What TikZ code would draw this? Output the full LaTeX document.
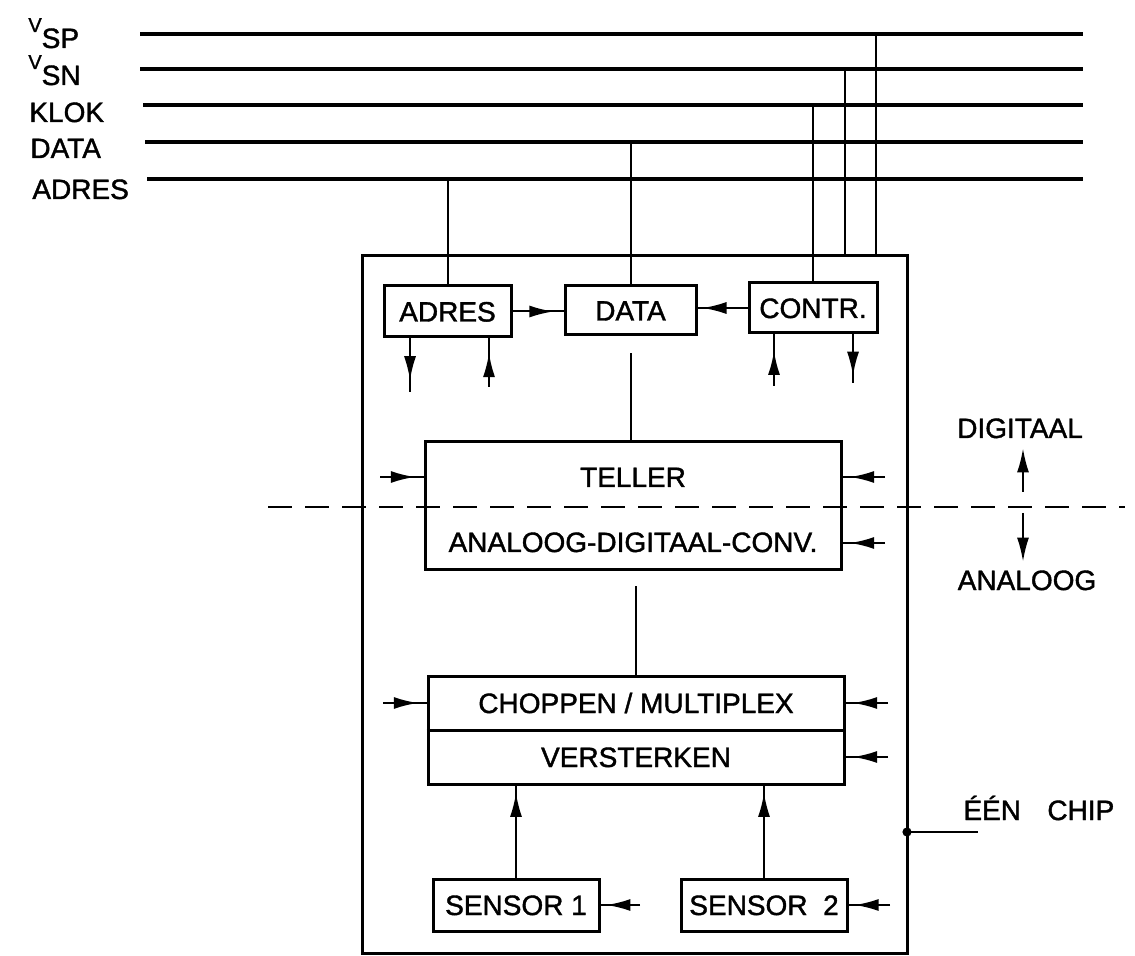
\documentclass[tikz,border=0pt]{standalone}
\usepackage{fontspec}
\setmainfont{Liberation Sans}[FakeBold=1.4]
\usetikzlibrary{arrows.meta,decorations.markings,calc}
\begin{document}
\begin{tikzpicture}[x=0.5pt,y=-0.5pt,
  bus/.style={line width=1.7pt},
  thinline/.style={line width=1pt},
  boxline/.style={line width=1.5pt},
  box/.style={draw,line width=1.5pt,inner sep=0pt,text height=10pt,text depth=0pt,font=\fontsize{14}{14}\selectfont},
  lbl/.style={inner sep=0pt,text height=10pt,text depth=0pt,font=\fontsize{14}{14}\selectfont},
  midarrow/.style={line width=1pt,postaction={decorate},decoration={markings,mark=at position #1 with {\arrow{Latex[length=12pt,width=6pt]}}}},
  endarrow/.style={line width=1pt,-{Latex[length=12pt,width=6pt]}},
]
\useasboundingbox (0,0) rectangle (1135,956);
\fill[white] (0,0) rectangle (1135,956);

% bus lines
\coordinate (bspL) at (140,34);  \coordinate (bspR) at (1083,34);
\coordinate (bsnL) at (140,69);  \coordinate (bsnR) at (1083,69);
\coordinate (bklL) at (143,105); \coordinate (bklR) at (1083,105);
\coordinate (bdaL) at (145,142); \coordinate (bdaR) at (1083,142);
\coordinate (badL) at (147,179); \coordinate (badR) at (1083,179);
\draw[bus] (bspL) -- (bspR);
\draw[bus] (bsnL) -- (bsnR);
\draw[bus] (bklL) -- (bklR);
\draw[bus] (bdaL) -- (bdaR);
\draw[bus] (badL) -- (badR);

% bus labels
\node[lbl,anchor=base west] (lsp) at (28,48) {\raisebox{8pt}{\fontsize{10}{10}\selectfont V}SP};
\node[lbl,anchor=base west] (lsn) at (28,85) {\raisebox{8pt}{\fontsize{10}{10}\selectfont V}SN};
\node[lbl,anchor=base west] (lkl) at (29,122) {KLOK};
\node[lbl,anchor=base west] (lda) at (30,158) {DATA};
\node[lbl,anchor=base west] (lad) at (32,199) {ADRES};

% chip outline
\node[draw,line width=1.5pt,inner sep=0pt,minimum width=272.5pt,minimum height=348.5pt] (chip) at (634.5,604.5) {};

% top boxes
\node[box,minimum width=63.5pt,minimum height=25.5pt] (adres) at (447.5,311.5) {ADRES};
\node[box,minimum width=65.5pt,minimum height=24.5pt] (data) at (630.5,310.5) {DATA};
\node[box,minimum width=64pt,minimum height=25pt] (contr) at (813,308) {CONTR.};

% bus taps
\draw[thinline] (adres.north) -- (adres.north |- badL);
\draw[thinline] (data.north) -- (data.north |- bdaL);
\draw[thinline] (contr.north) -- (contr.north |- bklL);
\coordinate (tsn) at (845,256);
\coordinate (tsp) at (876,256);
\draw[thinline] (tsn |- chip.north) -- (tsn |- bsnL);
\draw[thinline] (tsp |- chip.north) -- (tsp |- bspL);

% arrows between top boxes
\draw[midarrow=0.8] (adres.east) -- (adres.east -| data.west);
\draw[midarrow=0.9] (contr.west) -- (contr.west -| data.east);

% arrows below top boxes
\coordinate (ad) at (410,392);
\coordinate (au) at (489,387);
\coordinate (cu) at (774,386);
\coordinate (cd) at (853,383);
\draw[midarrow=0.78] (ad |- adres.south) -- (ad);
\draw[midarrow=0.7] (au) -- (au |- adres.south);
\draw[midarrow=0.68] (cu) -- (cu |- contr.south);
\draw[midarrow=0.85] (cd |- contr.south) -- (cd);

% teller / ADC
\node[draw,line width=1.5pt,inner sep=0pt,minimum width=208pt,minimum height=64pt] (teller) at (633,506) {};
\node[lbl] (tellertxt) at (633,477) {TELLER};
\node[lbl] (adctxt) at (633,542) {ANALOOG-DIGITAAL-CONV.};
\draw[thinline] ([yshift=-8.5pt]data.south) -- (data.south |- teller.north);

% dashed boundary
\coordinate (dl) at (268,507);
\coordinate (dr) at (1125,507);
\draw[line width=1.3pt,dash pattern=on 12pt off 6.5pt] (dl) -- (dr);

% side arrows teller
\coordinate (tl) at (380,477);
\coordinate (tr1) at (885,477);
\coordinate (tr2) at (885,543);
\draw[midarrow=0.8] (tl) -- (tl -| teller.west);
\draw[midarrow=0.82] (tr1) -- (tr1 -| teller.east);
\draw[midarrow=0.82] (tr2) -- (tr2 -| teller.east);

% chopper / amplifier
\node[draw,line width=1.5pt,inner sep=0pt,minimum width=208pt,minimum height=54pt] (chop) at (636,730) {};
\draw[boxline] (chop.west) -- (chop.east);
\node[lbl] (choptxt) at (636,703) {CHOPPEN / MULTIPLEX};
\node[lbl] (verstxt) at (636,757) {VERSTERKEN};
\draw[thinline] ([yshift=-7.5pt]teller.south -| chop.north) -- (chop.north);

\coordinate (cl) at (383,703);
\coordinate (cr1) at (888,703);
\coordinate (cr2) at (888,757);
\draw[midarrow=0.8] (cl) -- (cl -| chop.west);
\draw[midarrow=0.82] (cr1) -- (cr1 -| chop.east);
\draw[midarrow=0.82] (cr2) -- (cr2 -| chop.east);

% sensors
\node[box,minimum width=83pt,minimum height=26pt] (s1) at (516,905) {SENSOR 1};
\node[box,minimum width=83pt,minimum height=26pt] (s2) at (764,905) {SENSOR\ \ 2};
\draw[midarrow=0.92] (s1.north) -- (s1.north |- chop.south);
\draw[midarrow=0.92] (s2.north) -- (s2.north |- chop.south);
\coordinate (s1in) at (640,905);
\coordinate (s2in) at (890,905);
\draw[midarrow=0.85] (s1in) -- (s1in -| s1.east);
\draw[midarrow=0.85] (s2in) -- (s2in -| s2.east);

% digital / analog labels
\node[lbl] (dig) at (1020,428) {DIGITAAL};
\node[lbl] (ana) at (1027,580) {ANALOOG};
\coordinate (da) at (1023,492);
\coordinate (aa) at (1023,513);
\draw[endarrow] (da) -- ([yshift=-5pt]dig.south -| da);
\draw[endarrow] (aa) -- ([yshift=4pt]ana.north -| aa);

% one chip label
\coordinate (chd) at (907,832);
\coordinate (che) at (978,832);
\fill (chd) circle (2.3pt);
\draw[thinline] (chd) -- (che);
\node[lbl,anchor=base west] (een) at (963,820) {ÉÉN};
\node[lbl,anchor=base west] (chiptxt) at (1047,820) {CHIP};
\end{tikzpicture}
\end{document}
